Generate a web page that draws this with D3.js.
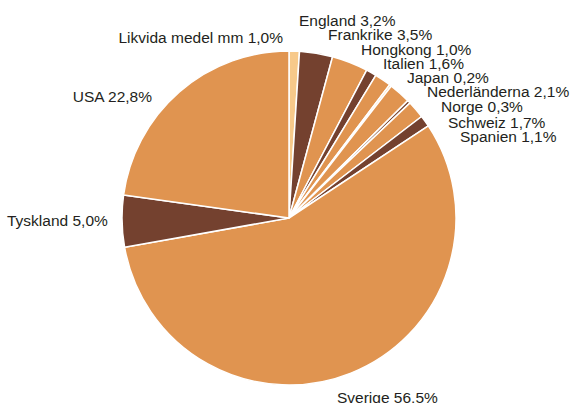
<!DOCTYPE html>
<html>
<head>
<meta charset="utf-8">
<script src="https://cdn.jsdelivr.net/npm/d3@7"></script>
<style>
  body { margin: 0; background: #fff; }
  text { font-family: "Liberation Sans", Arial, sans-serif; font-size: 15.5px; fill: #231f20; }
</style>
</head>
<body>
<svg id="chart" width="571" height="403"></svg>
<script>
const categories = ['Likvida medel mm', 'England', 'Frankrike', 'Hongkong', 'Italien', 'Japan',
  'Nederländerna', 'Norge', 'Schweiz', 'Spanien', 'Sverige', 'Tyskland', 'USA']
const values = [1.0, 3.2, 3.5, 1.0, 1.6, 0.2, 2.1, 0.3, 1.7, 1.1, 56.5, 5.0, 22.8]
const labels = ['1,0%', '3,2%', '3,5%', '1,0%', '1,6%', '0,2%', '2,1%', '0,3%', '1,7%', '1,1%', '56,5%', '5,0%', '22,8%']

const tones = { light: '#f7c98a', mid: '#e09450', dark: '#74412f' }
const sliceTone = ['light', 'dark', 'mid', 'dark', 'mid', 'light', 'mid', 'dark', 'mid', 'dark', 'mid', 'dark', 'mid']

// hand placed label anchors, like the original
const labelLayout = {
	'Likvida medel mm': { x: 283, y: 43, anchor: 'end' },
	'England': { x: 299, y: 26, anchor: 'start' },
	'Frankrike': { x: 328, y: 40, anchor: 'start' },
	'Hongkong': { x: 361, y: 55, anchor: 'start' },
	'Italien': { x: 383, y: 69, anchor: 'start' },
	'Japan': { x: 407, y: 83, anchor: 'start' },
	'Nederländerna': { x: 427, y: 97, anchor: 'start' },
	'Norge': { x: 441, y: 112, anchor: 'start' },
	'Schweiz': { x: 448, y: 128, anchor: 'start' },
	'Spanien': { x: 460, y: 142, anchor: 'start' },
	'Sverige': { x: 337, y: 403, anchor: 'start' },
	'Tyskland': { x: 7, y: 226, anchor: 'start' },
	'USA': { x: 152, y: 102, anchor: 'end' }
}

const cx = 289, cy = 218, radius = 167
const svg = d3.select('#chart')
const g = svg.append('g').attr('transform', `translate(${cx}, ${cy})`)

const data = categories.map((c, i) => ({ name: c, value: values[i], label: labels[i], tone: sliceTone[i] }))

const pie = d3.pie().value(d => d.value).sort(null)
const arc = d3.arc().innerRadius(0).outerRadius(radius)

g.selectAll('path').data(pie(data))
	.enter().append('path')
	.attr('d', arc)
	.style('fill', d => tones[d.data.tone])
	.style('stroke', '#fff')
	.style('stroke-width', 1.5)
	.style('stroke-linejoin', 'round')

svg.selectAll('text.lbl').data(data)
	.enter().append('text')
	.attr('class', 'lbl')
	.attr('x', d => labelLayout[d.name].x)
	.attr('y', d => labelLayout[d.name].y)
	.attr('text-anchor', d => labelLayout[d.name].anchor)
	.text(d => `${d.name} ${d.label}`)
</script>
</body>
</html>
